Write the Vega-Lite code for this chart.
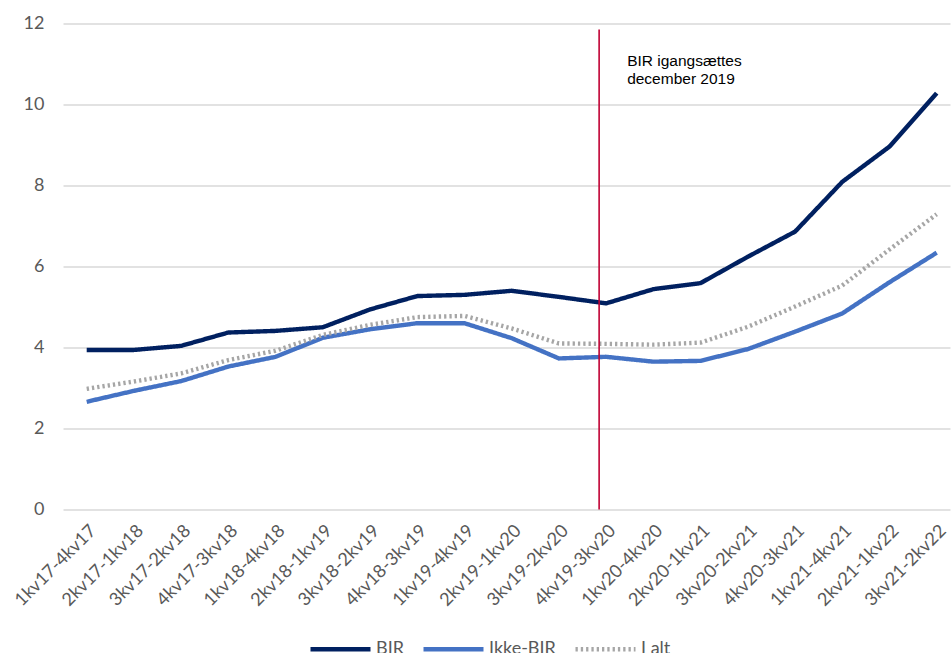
{
  "$schema": "https://vega.github.io/schema/vega-lite/v6.json",
  "width": 887,
  "height": 486,
  "autosize": {"type": "none"},
  "padding": {"left": 63, "top": 23.5, "right": 1, "bottom": 143.5},
  "background": "white",
  "config": {"view": {"stroke": null}, "font": "Lato"},
  "datasets": {
    "series": [
      {"period": "1kv17-4kv17", "series": "BIR", "value": 3.94},
      {"period": "2kv17-1kv18", "series": "BIR", "value": 3.94},
      {"period": "3kv17-2kv18", "series": "BIR", "value": 4.04},
      {"period": "4kv17-3kv18", "series": "BIR", "value": 4.37},
      {"period": "1kv18-4kv18", "series": "BIR", "value": 4.41},
      {"period": "2kv18-1kv19", "series": "BIR", "value": 4.5},
      {"period": "3kv18-2kv19", "series": "BIR", "value": 4.94},
      {"period": "4kv18-3kv19", "series": "BIR", "value": 5.27},
      {"period": "1kv19-4kv19", "series": "BIR", "value": 5.3},
      {"period": "2kv19-1kv20", "series": "BIR", "value": 5.4},
      {"period": "3kv19-2kv20", "series": "BIR", "value": 5.25},
      {"period": "4kv19-3kv20", "series": "BIR", "value": 5.09},
      {"period": "1kv20-4kv20", "series": "BIR", "value": 5.44},
      {"period": "2kv20-1kv21", "series": "BIR", "value": 5.59},
      {"period": "3kv20-2kv21", "series": "BIR", "value": 6.24},
      {"period": "4kv20-3kv21", "series": "BIR", "value": 6.86},
      {"period": "1kv21-4kv21", "series": "BIR", "value": 8.09},
      {"period": "2kv21-1kv22", "series": "BIR", "value": 8.96},
      {"period": "3kv21-2kv22", "series": "BIR", "value": 10.28},
      {"period": "1kv17-4kv17", "series": "Ikke-BIR", "value": 2.66},
      {"period": "2kv17-1kv18", "series": "Ikke-BIR", "value": 2.93},
      {"period": "3kv17-2kv18", "series": "Ikke-BIR", "value": 3.17},
      {"period": "4kv17-3kv18", "series": "Ikke-BIR", "value": 3.53},
      {"period": "1kv18-4kv18", "series": "Ikke-BIR", "value": 3.77},
      {"period": "2kv18-1kv19", "series": "Ikke-BIR", "value": 4.24},
      {"period": "3kv18-2kv19", "series": "Ikke-BIR", "value": 4.45},
      {"period": "4kv18-3kv19", "series": "Ikke-BIR", "value": 4.6},
      {"period": "1kv19-4kv19", "series": "Ikke-BIR", "value": 4.6},
      {"period": "2kv19-1kv20", "series": "Ikke-BIR", "value": 4.23},
      {"period": "3kv19-2kv20", "series": "Ikke-BIR", "value": 3.73},
      {"period": "4kv19-3kv20", "series": "Ikke-BIR", "value": 3.77},
      {"period": "1kv20-4kv20", "series": "Ikke-BIR", "value": 3.65},
      {"period": "2kv20-1kv21", "series": "Ikke-BIR", "value": 3.67},
      {"period": "3kv20-2kv21", "series": "Ikke-BIR", "value": 3.96},
      {"period": "4kv20-3kv21", "series": "Ikke-BIR", "value": 4.39},
      {"period": "1kv21-4kv21", "series": "Ikke-BIR", "value": 4.84},
      {"period": "2kv21-1kv22", "series": "Ikke-BIR", "value": 5.61},
      {"period": "3kv21-2kv22", "series": "Ikke-BIR", "value": 6.34},
      {"period": "1kv17-4kv17", "series": "I alt", "value": 2.98},
      {"period": "2kv17-1kv18", "series": "I alt", "value": 3.16},
      {"period": "3kv17-2kv18", "series": "I alt", "value": 3.36},
      {"period": "4kv17-3kv18", "series": "I alt", "value": 3.69},
      {"period": "1kv18-4kv18", "series": "I alt", "value": 3.92},
      {"period": "2kv18-1kv19", "series": "I alt", "value": 4.31},
      {"period": "3kv18-2kv19", "series": "I alt", "value": 4.56},
      {"period": "4kv18-3kv19", "series": "I alt", "value": 4.75},
      {"period": "1kv19-4kv19", "series": "I alt", "value": 4.78},
      {"period": "2kv19-1kv20", "series": "I alt", "value": 4.47},
      {"period": "3kv19-2kv20", "series": "I alt", "value": 4.1},
      {"period": "4kv19-3kv20", "series": "I alt", "value": 4.09},
      {"period": "1kv20-4kv20", "series": "I alt", "value": 4.07},
      {"period": "2kv20-1kv21", "series": "I alt", "value": 4.12},
      {"period": "3kv20-2kv21", "series": "I alt", "value": 4.51},
      {"period": "4kv20-3kv21", "series": "I alt", "value": 5.01},
      {"period": "1kv21-4kv21", "series": "I alt", "value": 5.53},
      {"period": "2kv21-1kv22", "series": "I alt", "value": 6.42},
      {"period": "3kv21-2kv22", "series": "I alt", "value": 7.29}
    ],
    "marker": [
      {"period": "4kv19-3kv20", "start": 0, "end": 11.85, "note": "BIR igangsættes\ndecember 2019", "noteY": 10.96}
    ]
  },
  "layer": [
    {
      "data": {"name": "series"},
      "mark": {"type": "line", "strokeCap": "butt", "strokeJoin": "round"},
      "encoding": {
        "x": {
          "field": "period",
          "type": "ordinal",
          "sort": null,
          "scale": {"type": "point", "padding": 0.392, "align": 0.64},
          "axis": {
            "title": null,
            "labelAngle": -45,
            "domain": false,
            "ticks": false,
            "grid": false,
            "labelFontSize": 18,
            "labelColor": "#595959",
            "labelPadding": 12
          }
        },
        "y": {
          "field": "value",
          "type": "quantitative",
          "scale": {"domain": [0, 12]},
          "axis": {
            "title": null,
            "values": [0, 2, 4, 6, 8, 10, 12],
            "domain": false,
            "ticks": false,
            "gridColor": "#D9D9D9",
            "gridWidth": 1.3,
            "labelFontSize": 18,
            "labelColor": "#595959",
            "labelPadding": 19
          }
        },
        "color": {
          "field": "series",
          "type": "nominal",
          "scale": {"domain": ["BIR", "Ikke-BIR", "I alt"], "range": ["#002060", "#4472C4", "#A6A6A6"]},
          "legend": {
            "title": null,
            "orient": "none",
            "legendX": 245,
            "legendY": 593,
            "padding": 0,
            "direction": "horizontal",
            "symbolType": "stroke",
            "symbolSize": 3600,
            "labelFontSize": 18,
            "labelColor": "#595959",
            "columnPadding": 10,
            "labelOffset": 3
          }
        },
        "strokeDash": {
          "field": "series",
          "type": "nominal",
          "scale": {"domain": ["BIR", "Ikke-BIR", "I alt"], "range": [[1, 0], [1, 0], [2.3, 3]]}
        },
        "strokeWidth": {
          "field": "series",
          "type": "nominal",
          "scale": {"domain": ["BIR", "Ikke-BIR", "I alt"], "range": [4.4, 4.4, 2.3]}
        }
      }
    },
    {
      "data": {"name": "marker"},
      "mark": {"type": "rule", "color": "#C00033", "strokeWidth": 1.6, "xOffset": -7},
      "encoding": {
        "x": {"field": "period", "type": "ordinal", "sort": null},
        "y": {"field": "start", "type": "quantitative"},
        "y2": {"field": "end"}
      }
    },
    {
      "data": {"name": "marker"},
      "mark": {
        "type": "text",
        "align": "left",
        "baseline": "alphabetic",
        "dx": 21,
        "font": "Liberation Sans",
        "fontSize": 15.5,
        "lineBreak": "\n",
        "lineHeight": 18.5,
        "color": "#000000"
      },
      "encoding": {
        "x": {"field": "period", "type": "ordinal", "sort": null},
        "y": {"field": "noteY", "type": "quantitative"},
        "text": {"field": "note"}
      }
    }
  ]
}
